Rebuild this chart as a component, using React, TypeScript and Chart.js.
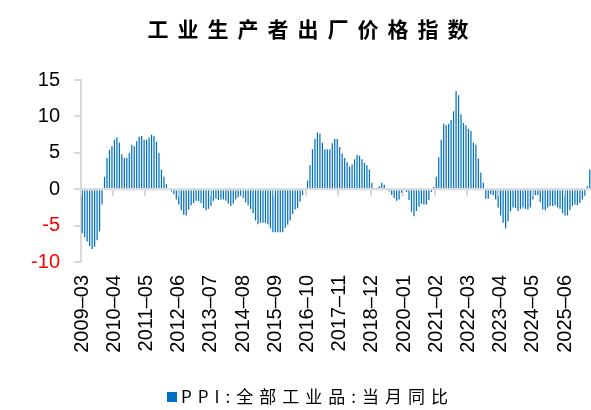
import React, { useEffect, useRef } from 'react';
import { Chart, registerables } from 'chart.js';

Chart.register(...registerables);

const TITLE = '工业生产者出厂价格指数';
const SERIES_NAME = 'PPI:全部工业品:当月同比';

// Monthly YoY values, one array per year (2009 starts in March)
const FIRST_YEAR = 2009;
const FIRST_MONTH = 3;
const PPI_2009 = [-6.0, -6.6, -7.2, -7.8, -8.2, -7.9, -7.0, -5.8, -2.1, 1.7];
const PPI_2010 = [4.3, 5.4, 5.9, 6.8, 7.1, 6.4, 4.8, 4.3, 4.3, 5.0, 6.1, 5.9];
const PPI_2011 = [6.6, 7.2, 7.3, 6.8, 6.8, 7.1, 7.5, 7.3, 6.5, 5.0, 2.7, 1.7];
const PPI_2012 = [0.7, 0.0, -0.3, -0.7, -1.4, -2.1, -2.9, -3.5, -3.6, -2.8, -2.2, -1.9];
const PPI_2013 = [-1.6, -1.6, -1.9, -2.6, -2.9, -2.7, -2.3, -1.6, -1.3, -1.5, -1.4, -1.4];
const PPI_2014 = [-1.6, -2.0, -2.3, -2.0, -1.4, -1.1, -0.9, -1.2, -1.8, -2.2, -2.7, -3.3];
const PPI_2015 = [-4.3, -4.8, -4.6, -4.6, -4.6, -4.8, -5.4, -5.9, -5.9, -5.9, -5.9, -5.9];
const PPI_2016 = [-5.3, -4.9, -4.3, -3.4, -2.8, -2.6, -1.7, -0.8, 0.1, 1.2, 3.3, 5.5];
const PPI_2017 = [6.9, 7.8, 7.6, 6.4, 5.5, 5.5, 5.5, 6.3, 6.9, 6.9, 5.8, 4.9];
const PPI_2018 = [4.3, 3.7, 3.1, 3.4, 4.1, 4.7, 4.6, 4.1, 3.6, 3.3, 2.7, 0.9];
const PPI_2019 = [0.1, 0.1, 0.4, 0.9, 0.6, 0.0, -0.3, -0.8, -1.2, -1.6, -1.4, -0.5];
const PPI_2020 = [0.1, -0.4, -1.5, -3.1, -3.7, -3.0, -2.4, -2.0, -2.1, -2.1, -1.5, -0.4];
const PPI_2021 = [0.3, 1.7, 4.4, 6.8, 9.0, 8.8, 9.0, 9.5, 10.7, 13.5, 12.9, 10.3];
const PPI_2022 = [9.1, 8.8, 8.3, 8.0, 6.4, 6.1, 4.2, 2.3, 0.9, -1.3, -1.3, -0.7];
const PPI_2023 = [-0.8, -1.4, -2.5, -3.6, -4.6, -5.4, -4.4, -3.0, -2.5, -2.6, -3.0, -2.7];
const PPI_2024 = [-2.5, -2.7, -2.8, -2.5, -1.4, -0.8, -0.8, -1.8, -2.8, -2.9, -2.5, -2.3];
const PPI_2025 = [-2.3, -2.2, -2.5, -2.7, -3.3, -3.6, -3.6, -2.9, -2.3, -2.1, -2.2, -1.9];
const PPI_2026 = [-1.4, -0.9, 0.4, 2.7];

const YEAR_SERIES = [
  PPI_2009, PPI_2010, PPI_2011, PPI_2012, PPI_2013, PPI_2014, PPI_2015, PPI_2016, PPI_2017,
  PPI_2018, PPI_2019, PPI_2020, PPI_2021, PPI_2022, PPI_2023, PPI_2024, PPI_2025, PPI_2026,
];

const TICK_LABELS = [
  '2009-03', '2010-04', '2011-05', '2012-06', '2013-07', '2014-08', '2015-09', '2016-10',
  '2017-11', '2018-12', '2020-01', '2021-02', '2022-03', '2023-04', '2024-05', '2025-06',
];

const Y_MIN = -10;
const Y_MAX = 15;
const Y_STEP = 5;

const categories: string[] = [];
const values: number[] = [];
YEAR_SERIES.forEach((arr, k) => {
  const year = FIRST_YEAR + k;
  const m0 = k === 0 ? FIRST_MONTH : 1;
  arr.forEach((v, i) => {
    categories.push(`${year}-${String(m0 + i).padStart(2, '0')}`);
    values.push(v);
  });
});

const BAR_COLOR = '#0070C0';
const AXIS_COLOR = '#d9d9d9';

const decorPlugin = {
  id: 'decor',
  afterDatasetsDraw(chart: any) {
    const { ctx, chartArea, scales } = chart;
    const xs = scales.x;
    const ys = scales.y;
    const y0 = ys.getPixelForValue(0);
    const half = (xs.getPixelForValue(1) - xs.getPixelForValue(0)) / 2;
    ctx.save();
    ctx.strokeStyle = AXIS_COLOR;
    ctx.lineWidth = 2;
    ctx.beginPath();
    ctx.moveTo(chartArea.left, y0);
    ctx.lineTo(chartArea.right, y0);
    categories.forEach((c, i) => {
      if (TICK_LABELS.includes(c)) {
        const px = Math.round(xs.getPixelForValue(i) - half);
        ctx.moveTo(px, y0);
        ctx.lineTo(px, y0 + 7);
      }
    });
    ctx.stroke();
    ctx.restore();
  },
  afterDraw(chart: any) {
    const { ctx } = chart;
    ctx.save();
    // title
    ctx.font = 'bold 21px "Noto Sans CJK SC"';
    (ctx as any).letterSpacing = '9px';
    ctx.fillStyle = '#000';
    ctx.textBaseline = 'middle';
    ctx.textAlign = 'left';
    const tw = ctx.measureText(TITLE).width - 9;
    ctx.fillText(TITLE, 308 - tw / 2, 29);
    // legend
    ctx.fillStyle = BAR_COLOR;
    ctx.fillRect(167, 392, 10, 10);
    ctx.font = '17px "Noto Sans CJK SC"';
    (ctx as any).letterSpacing = '6px';
    ctx.fillStyle = '#000';
    ctx.fillText(SERIES_NAME, 181, 397);
    ctx.restore();
  },
};

export default function App() {
  const ref = useRef<HTMLCanvasElement | null>(null);
  useEffect(() => {
    if (!ref.current) return;
    const chart = new Chart(ref.current, {
      type: 'bar',
      data: {
        labels: categories,
        datasets: [
          {
            label: SERIES_NAME,
            data: values,
            backgroundColor: BAR_COLOR,
            barPercentage: 0.5,
            categoryPercentage: 1.0,
          },
        ],
      },
      options: {
        animation: false,
        responsive: false,
        devicePixelRatio: 1,
        layout: { padding: { top: 80, right: 0, bottom: 52, left: 0 } },
        plugins: {
          legend: { display: false },
          title: { display: false },
          tooltip: { enabled: false },
        },
        scales: {
          x: {
            grid: { display: false, drawTicks: false },
            border: { display: false },
            afterFit: (s: any) => {
              s.height = 96;
              s.paddingLeft = 0;
              s.paddingRight = 0;
            },
            ticks: {
              autoSkip: false,
              maxRotation: 90,
              minRotation: 90,
              padding: 13,
              color: '#000',
              font: { family: '"Liberation Sans", Arial', size: 20 },
              callback: (_v: any, i: number) =>
                TICK_LABELS.includes(categories[i]) ? categories[i].replace('-', '–') : '',
            },
          },
          y: {
            min: Y_MIN,
            max: Y_MAX,
            afterFit: (s: any) => {
              s.width = 81;
            },
            grid: {
              display: true,
              drawOnChartArea: false,
              drawTicks: true,
              tickLength: 7,
              color: AXIS_COLOR,
              lineWidth: 2,
            },
            border: { display: true, color: AXIS_COLOR, width: 2 },
            ticks: {
              stepSize: Y_STEP,
              padding: 14,
              font: { family: '"Liberation Sans", Arial', size: 20 },
              color: (c: any) => (c.tick && c.tick.value < 0 ? '#FF0000' : '#000'),
            },
          },
        },
      },
      plugins: [decorPlugin],
    });
    return () => chart.destroy();
  }, []);
  return (
    <div style={{ position: 'fixed', left: 0, top: 0, width: 591, height: 410, background: '#fff' }}>
      <canvas ref={ref} width={591} height={410} style={{ width: 591, height: 410 }} />
    </div>
  );
}
